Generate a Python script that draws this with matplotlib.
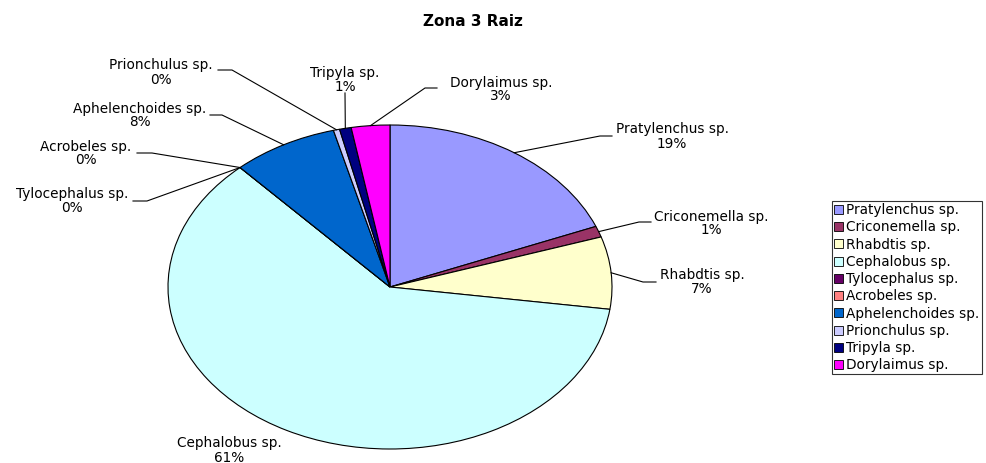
import matplotlib
matplotlib.use('Agg')
import matplotlib.pyplot as plt
import numpy as np

# data
species = ['Pratylenchus sp.', 'Criconemella sp.', 'Rhabdtis sp.', 'Cephalobus sp.',
           'Tylocephalus sp.', 'Acrobeles sp.', 'Aphelenchoides sp.', 'Prionchulus sp.',
           'Tripyla sp.', 'Dorylaimus sp.']
percent = [18.9, 1.1, 7.2, 61.0, 0.0, 0.0, 7.7, 0.45, 0.85, 2.8]
colors = ['#9999FF', '#993366', '#FFFFCC', '#CCFFFF', '#660066',
          '#FF8080', '#0066CC', '#CCCCFF', '#000080', '#FF00FF']

W, H = 986, 463
# pie centre / radii in pixels
cx, cy, rx, ry = 390, 287, 222, 162

fig = plt.figure(figsize=(W/100, H/100), dpi=100)
fig.patch.set_facecolor('white')
ax = fig.add_axes([(cx-rx)/W, (H-cy-ry)/H, 2*rx/W, 2*ry/H])

wedges, _ = ax.pie(percent, colors=colors, startangle=90, counterclock=False,
                   radius=1, normalize=True,
                   wedgeprops=dict(edgecolor='black', linewidth=0.8))
ax.set_aspect('auto')
ax.set_xlim(-1, 1)
ax.set_ylim(-1, 1)
ax.axis('off')

def px2data(px, py):
    return (px-cx)/rx, (cy-py)/ry

# label text centres and leader points (pixels), near text first
label_pos = [
    (672, 136.5, [(612, 136), (600, 136)]),
    (711, 223.5, [(651, 222), (639, 222)]),
    (702, 282, [(656, 282), (643, 282)]),
    (229.5, 450.5, []),
    (72, 201, [(133, 201), (147, 201)]),
    (86, 153.5, [(137, 153), (152, 153)]),
    (139.5, 115.5, [(210, 115), (222, 115)]),
    (161, 72.5, [(218, 70), (232, 70)]),
    (345, 80, [(345, 93)]),
    (501, 89.5, [(437, 88), (425, 88)]),
]

fs = 9.8
for i, (w, (tx, ty, pts)) in enumerate(zip(wedges, label_pos)):
    mid = np.deg2rad((w.theta1 + w.theta2) / 2)
    fig.text(tx/W, 1-ty/H, '%s\n%d%%' % (species[i], round(percent[i])),
             ha='center', va='center', fontsize=fs, family='DejaVu Sans',
             linespacing=1.0)
    if pts:
        xs = [px2data(p[0], p[1])[0] for p in pts] + [np.cos(mid)]
        ys = [px2data(p[0], p[1])[1] for p in pts] + [np.sin(mid)]
        ax.plot(xs, ys, color='black', linewidth=0.8, clip_on=False)

fig.text(472.5/W, 1-22/H, 'Zona 3 Raiz', ha='center', va='center',
         fontsize=11, fontweight='bold')

leg = fig.legend(wedges, species, loc='upper left',
                 bbox_to_anchor=(832/W, 1-201/H), fontsize=fs,
                 frameon=True, fancybox=False, borderaxespad=0,
                 handlelength=0.65, handleheight=0.65, handletextpad=0.25,
                 labelspacing=0.24, borderpad=0.15)
leg.get_frame().set_edgecolor('black')
leg.get_frame().set_linewidth(0.8)
for h in leg.legend_handles:
    h.set_edgecolor('black')
    h.set_linewidth(0.6)

fig.savefig('out.png', dpi=100)
